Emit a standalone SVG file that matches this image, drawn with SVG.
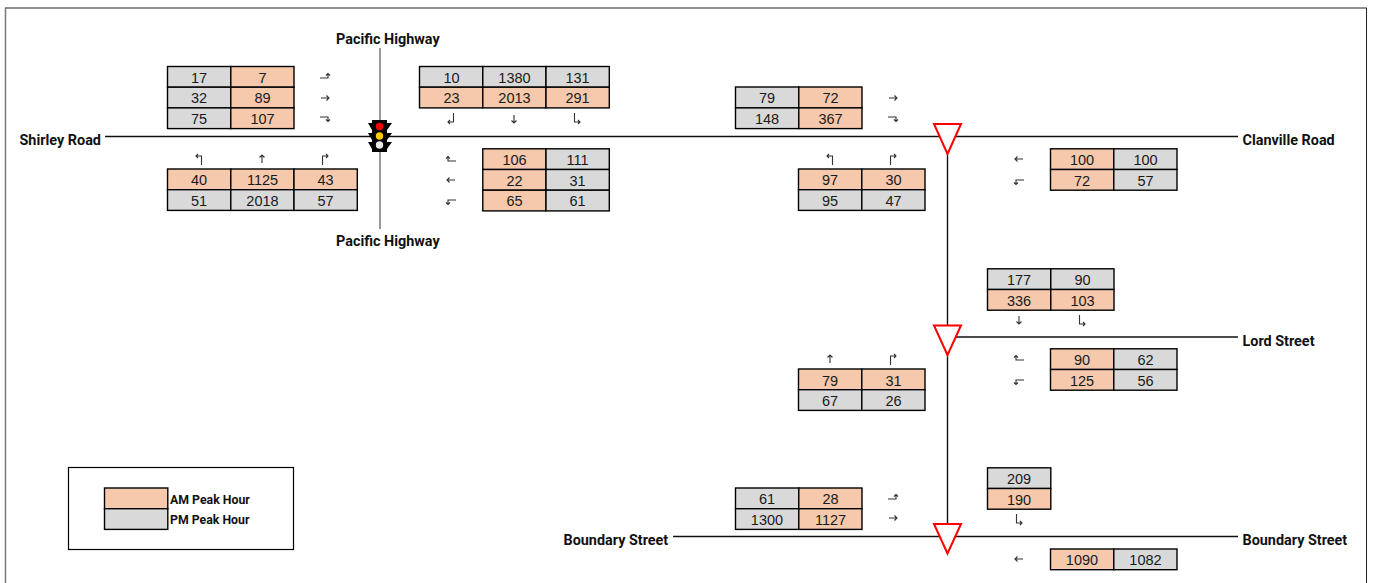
<svg xmlns="http://www.w3.org/2000/svg" width="1374" height="583" viewBox="0 0 1374 583">
<style>
.am{fill:#f6c8ac;stroke:#000;stroke-width:1.4}
.pm{fill:#d9d9d9;stroke:#000;stroke-width:1.4}
.n{font:14.5px "Liberation Sans",Arial,sans-serif;fill:#1a1a1a;text-anchor:middle}
.l{font:bold 14.400px Roboto,"Noto Sans",sans-serif;fill:#111}
.leg{font:bold 12.300px Roboto,"Noto Sans",sans-serif;fill:#111}
.road{stroke:#111;stroke-width:1.400;fill:none}
.grey{stroke:#777;stroke-width:1.500;fill:none}
.ar{fill:none;stroke:#333;stroke-width:1.100}
.yield{fill:#fff;stroke:#f00;stroke-width:2}
</style>
<defs>
<g id="aR"><path class="ar" d="M-4 0H4M1.500-2.500L4 0L1.500 2.500"/></g>
<g id="aL"><path class="ar" d="M4 0H-4M-1.500-2.500L-4 0L-1.500 2.500"/></g>
<g id="aU"><path class="ar" d="M0 4V-4M-2.500-1.500L0-4L2.500-1.500"/></g>
<g id="aD"><path class="ar" d="M0-4V4M-2.500 1.500L0 4L2.500 1.500"/></g>
<g id="tEU"><path class="ar" d="M-5 2H3V-2.500M1 -.5L3-2.500L5-.5"/></g>
<g id="tED"><path class="ar" d="M-5-2H3V2.500M1 .5L3 2.500L5 .5"/></g>
<g id="tWU"><path class="ar" d="M5 2H-3V-2.500M-1 -.5L-3-2.500L-5-.5"/></g>
<g id="tWD"><path class="ar" d="M5-2H-3V2.500M-1 .5L-3 2.500L-5 .5"/></g>
<g id="tNL"><path class="ar" d="M2.500 6V-3H-3M-1-5L-3-3L-1-1"/></g>
<g id="tNR"><path class="ar" d="M-2.500 6V-3H3M1-5L3-3L1-1"/></g>
<g id="tSL"><path class="ar" d="M2.500-6V3H-3M-1 1L-3 3L-1 5"/></g>
<g id="tSR"><path class="ar" d="M-2.500-6V3H3M1 1L3 3L1 5"/></g>
</defs>
<rect x="5.500" y="8" width="1361" height="582" fill="#fff" stroke="#222" stroke-width="1"/>
<path d="M5.500 8V583" stroke="#777" stroke-width="1.500" fill="none"/>

<g id="connectors">
<path class="road" d="M105 136.500H1238"/>
<path class="grey" d="M380 48V229"/>
<path class="road" d="M947.500 136V536"/>
<path class="road" d="M947 337H1238"/>
<path class="road" d="M673 536.500H1238"/>
</g>

<g id="signal">
<path fill="#000" d="M372 120H387V123H392L387 130V133H392L387 140V142H392L387 149V152H372V149L368 142H372V140L368 133H372V130L368 123H372Z"/>
<circle cx="379.500" cy="126.500" r="3.700" fill="#f00"/>
<circle cx="379.500" cy="136" r="3.700" fill="#fc0"/>
<circle cx="379.500" cy="145" r="3.700" fill="#e8e8e8"/>
</g>

<g id="yield-clanville"><path class="yield" d="M934 124H961L947.500 154Z"/></g>
<g id="yield-lord"><path class="yield" d="M934 325.500H961L947.500 355Z"/></g>
<g id="yield-boundary"><path class="yield" d="M934 524H961L947.500 553.500Z"/></g>

<g id="label-pacific-n"><text class="l" x="336" y="43.500">Pacific Highway</text></g>
<g id="label-pacific-s"><text class="l" x="336" y="245.500">Pacific Highway</text></g>
<g id="label-shirley"><text class="l" x="19.500" y="144.500">Shirley Road</text></g>
<g id="label-clanville"><text class="l" x="1242.500" y="144.500">Clanville Road</text></g>
<g id="label-lord"><text class="l" x="1242.500" y="345.500">Lord Street</text></g>
<g id="label-boundary-w"><text class="l" x="563.500" y="545">Boundary Street</text></g>
<g id="label-boundary-e"><text class="l" x="1242.500" y="545">Boundary Street</text></g>

<g id="t-shirley-e">
<rect class="pm" x="167.500" y="66.500" width="63.300" height="20.700"/><rect class="am" x="230.800" y="66.500" width="63.200" height="20.700"/>
<rect class="pm" x="167.500" y="87.200" width="63.300" height="20.700"/><rect class="am" x="230.800" y="87.200" width="63.200" height="20.700"/>
<rect class="pm" x="167.500" y="107.900" width="63.300" height="20.700"/><rect class="am" x="230.800" y="107.900" width="63.200" height="20.700"/>
<text class="n" x="199" y="82.500">17</text><text class="n" x="262.500" y="82.500">7</text>
<text class="n" x="199" y="103">32</text><text class="n" x="262.500" y="103">89</text>
<text class="n" x="199" y="123.500">75</text><text class="n" x="262.500" y="123.500">107</text>
<use href="#tEU" x="325" y="76"/><use href="#aR" x="325" y="98"/><use href="#tED" x="325" y="119"/>
</g>

<g id="t-shirley-n">
<rect class="am" x="167.500" y="169" width="63.300" height="20.700"/><rect class="am" x="230.800" y="169" width="63.200" height="20.700"/><rect class="am" x="294" y="169" width="63.300" height="20.700"/>
<rect class="pm" x="167.500" y="189.700" width="63.300" height="20.700"/><rect class="pm" x="230.800" y="189.700" width="63.200" height="20.700"/><rect class="pm" x="294" y="189.700" width="63.300" height="20.700"/>
<text class="n" x="199" y="185">40</text><text class="n" x="262.500" y="185">1125</text><text class="n" x="325.500" y="185">43</text>
<text class="n" x="199" y="205.500">51</text><text class="n" x="262.500" y="205.500">2018</text><text class="n" x="325.500" y="205.500">57</text>
<use href="#tNL" x="199" y="159"/><use href="#aU" x="262" y="159"/><use href="#tNR" x="325" y="159"/>
</g>

<g id="t-pacific-s">
<rect class="pm" x="419.500" y="66.500" width="63.300" height="20.700"/><rect class="pm" x="482.800" y="66.500" width="63.200" height="20.700"/><rect class="pm" x="546" y="66.500" width="63.300" height="20.700"/>
<rect class="am" x="419.500" y="87.200" width="63.300" height="20.700"/><rect class="am" x="482.800" y="87.200" width="63.200" height="20.700"/><rect class="am" x="546" y="87.200" width="63.300" height="20.700"/>
<text class="n" x="451.500" y="82.500">10</text><text class="n" x="514.500" y="82.500">1380</text><text class="n" x="577.500" y="82.500">131</text>
<text class="n" x="451.500" y="103">23</text><text class="n" x="514.500" y="103">2013</text><text class="n" x="577.500" y="103">291</text>
<use href="#tSL" x="451" y="119"/><use href="#aD" x="514" y="119"/><use href="#tSR" x="577" y="119"/>
</g>

<g id="t-pacific-w">
<rect class="am" x="482.800" y="148.800" width="63.200" height="20.700"/><rect class="pm" x="546" y="148.800" width="63.300" height="20.700"/>
<rect class="am" x="482.800" y="169.500" width="63.200" height="20.700"/><rect class="pm" x="546" y="169.500" width="63.300" height="20.700"/>
<rect class="am" x="482.800" y="190.200" width="63.200" height="20.700"/><rect class="pm" x="546" y="190.200" width="63.300" height="20.700"/>
<text class="n" x="514.500" y="165">106</text><text class="n" x="577.500" y="165">111</text>
<text class="n" x="514.500" y="185.500">22</text><text class="n" x="577.500" y="185.500">31</text>
<text class="n" x="514.500" y="206">65</text><text class="n" x="577.500" y="206">61</text>
<use href="#tWU" x="451" y="159"/><use href="#aL" x="451" y="180"/><use href="#tWD" x="451" y="202"/>
</g>

<g id="t-clanville-e">
<rect class="pm" x="735.500" y="87" width="63.300" height="20.900"/><rect class="am" x="798.800" y="87" width="63.200" height="20.900"/>
<rect class="pm" x="735.500" y="107.900" width="63.300" height="20.700"/><rect class="am" x="798.800" y="107.900" width="63.200" height="20.700"/>
<text class="n" x="767" y="103">79</text><text class="n" x="830.500" y="103">72</text>
<text class="n" x="767" y="123.500">148</text><text class="n" x="830.500" y="123.500">367</text>
<use href="#aR" x="893" y="98"/><use href="#tED" x="893" y="119"/>
</g>

<g id="t-clanville-n">
<rect class="am" x="798.500" y="169" width="63.300" height="20.700"/><rect class="am" x="861.800" y="169" width="63.200" height="20.700"/>
<rect class="pm" x="798.500" y="189.700" width="63.300" height="20.700"/><rect class="pm" x="861.800" y="189.700" width="63.200" height="20.700"/>
<text class="n" x="830" y="185">97</text><text class="n" x="893.500" y="185">30</text>
<text class="n" x="830" y="205.500">95</text><text class="n" x="893.500" y="205.500">47</text>
<use href="#tNL" x="830" y="159"/><use href="#tNR" x="893" y="159"/>
</g>

<g id="t-clanville-w">
<rect class="am" x="1050.500" y="148.800" width="63.300" height="20.700"/><rect class="pm" x="1113.800" y="148.800" width="63.200" height="20.700"/>
<rect class="am" x="1050.500" y="169.500" width="63.300" height="20.700"/><rect class="pm" x="1113.800" y="169.500" width="63.200" height="20.700"/>
<text class="n" x="1082" y="165">100</text><text class="n" x="1145.500" y="165">100</text>
<text class="n" x="1082" y="185.500">72</text><text class="n" x="1145.500" y="185.500">57</text>
<use href="#aL" x="1019" y="159"/><use href="#tWD" x="1019" y="182"/>
</g>

<g id="t-lord-s">
<rect class="pm" x="987.500" y="268.800" width="63.300" height="20.700"/><rect class="pm" x="1050.800" y="268.800" width="63.200" height="20.700"/>
<rect class="am" x="987.500" y="289.500" width="63.300" height="20.700"/><rect class="am" x="1050.800" y="289.500" width="63.200" height="20.700"/>
<text class="n" x="1019" y="285">177</text><text class="n" x="1082.500" y="285">90</text>
<text class="n" x="1019" y="305.500">336</text><text class="n" x="1082.500" y="305.500">103</text>
<use href="#aD" x="1019" y="320"/><use href="#tSR" x="1082" y="321"/>
</g>

<g id="t-lord-w">
<rect class="am" x="1050.500" y="348.800" width="63.300" height="20.700"/><rect class="pm" x="1113.800" y="348.800" width="63.200" height="20.700"/>
<rect class="am" x="1050.500" y="369.500" width="63.300" height="20.700"/><rect class="pm" x="1113.800" y="369.500" width="63.200" height="20.700"/>
<text class="n" x="1082" y="365">90</text><text class="n" x="1145.500" y="365">62</text>
<text class="n" x="1082" y="385.500">125</text><text class="n" x="1145.500" y="385.500">56</text>
<use href="#tWU" x="1019" y="358"/><use href="#tWD" x="1019" y="382"/>
</g>

<g id="t-lord-n">
<rect class="am" x="798.500" y="369" width="63.300" height="20.700"/><rect class="am" x="861.800" y="369" width="63.200" height="20.700"/>
<rect class="pm" x="798.500" y="389.700" width="63.300" height="20.700"/><rect class="pm" x="861.800" y="389.700" width="63.200" height="20.700"/>
<text class="n" x="830" y="385.500">79</text><text class="n" x="893.500" y="385.500">31</text>
<text class="n" x="830" y="405.500">67</text><text class="n" x="893.500" y="405.500">26</text>
<use href="#aU" x="830" y="359"/><use href="#tNR" x="893" y="359"/>
</g>

<g id="t-boundary-e">
<rect class="pm" x="735.500" y="488" width="63.300" height="20.700"/><rect class="am" x="798.800" y="488" width="63.200" height="20.700"/>
<rect class="pm" x="735.500" y="508.700" width="63.300" height="20.700"/><rect class="am" x="798.800" y="508.700" width="63.200" height="20.700"/>
<text class="n" x="767" y="503.500">61</text><text class="n" x="830.500" y="503.500">28</text>
<text class="n" x="767" y="524.500">1300</text><text class="n" x="830.500" y="524.500">1127</text>
<use href="#tEU" x="893" y="497"/><use href="#aR" x="893" y="518"/>
</g>

<g id="t-boundary-s">
<rect class="pm" x="987.500" y="467.800" width="63.300" height="20.700"/>
<rect class="am" x="987.500" y="488.500" width="63.300" height="20.700"/>
<text class="n" x="1019" y="483.500">209</text>
<text class="n" x="1019" y="504.500">190</text>
<use href="#tSR" x="1019" y="520"/>
</g>

<g id="t-boundary-w">
<rect class="am" x="1050.500" y="549" width="63.300" height="20.700"/><rect class="pm" x="1113.800" y="549" width="63.200" height="20.700"/>
<text class="n" x="1082" y="565">1090</text><text class="n" x="1145.500" y="565">1082</text>
<use href="#aL" x="1019" y="559"/>
</g>

<g id="legend">
<rect x="68.500" y="467.500" width="225" height="82" fill="#fff" stroke="#000" stroke-width="1.200"/>
<rect class="am" x="104.500" y="488" width="63.300" height="20.700"/>
<rect class="pm" x="104.500" y="508.700" width="63.300" height="20.700"/>
<text class="leg" x="170" y="504">AM Peak Hour</text>
<text class="leg" x="170" y="524">PM Peak Hour</text>
</g>
</svg>
